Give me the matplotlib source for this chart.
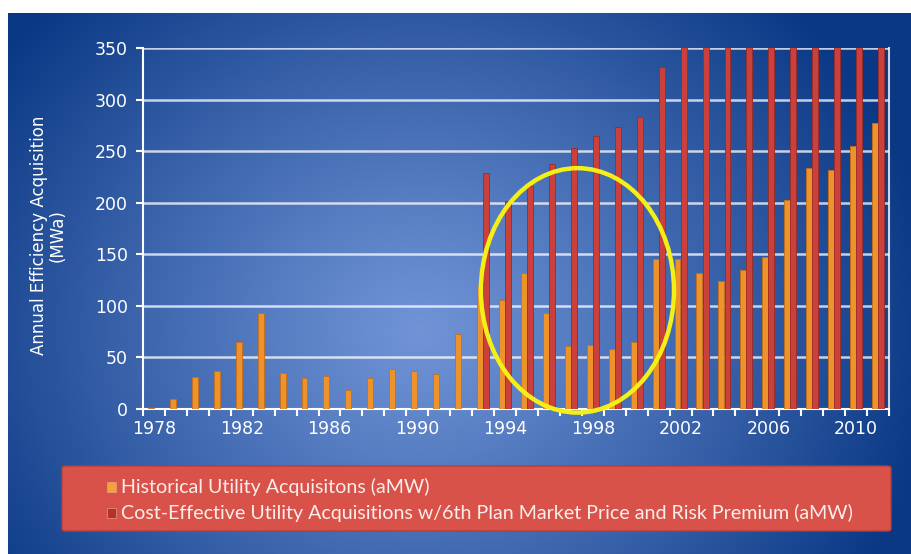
import numpy as np
import matplotlib
matplotlib.use('Agg')
import matplotlib.pyplot as plt
from matplotlib.patches import Ellipse, FancyBboxPatch, Rectangle

# data
years = list(range(1978, 2012))
historical = [1, 10, 31, 37, 65, 93, 35, 30, 32, 18, 30, 39, 37, 34, 73,
              119, 106, 132, 93, 61, 62, 58, 65, 145, 145, 132, 124, 135,
              147, 203, 234, 232, 255, 277]
# cost-effective series starts in 1993; 2002 on runs off the top of the chart
cost_effective = [0] * 15 + [229, 202, 216, 238, 253, 265, 273, 283, 332,
                             365, 372, 380, 388, 395, 402, 410, 418, 425, 432]
x_labels = list(range(1978, 2011, 4))
y_ticks = [0, 50, 100, 150, 200, 250, 300, 350]

W, H = 912, 554
fig = plt.figure(figsize=(W / 100, H / 100), dpi=100, facecolor='white')

# blue radial gradient backdrop (white strip top and left like the slide grab)
bg = fig.add_axes([8 / W, 0, 1 - 8 / W, 1 - 13 / H])
bg.axis('off')
gx, gy = np.meshgrid(np.linspace(8, W, 300), np.linspace(13, H, 200))
d = np.sqrt(((gx - 420) / 1.0) ** 2 + ((gy - 330) / 0.9) ** 2) / 520
d = np.clip(d, 0, 1) ** 1.1
light = np.array([0.44, 0.58, 0.84])
dark = np.array([0.04, 0.22, 0.52])
img = light[None, None, :] * (1 - d[..., None]) + dark[None, None, :] * d[..., None]
bg.imshow(img, aspect='auto', extent=[0, 1, 0, 1], origin='upper')
bg.set_xlim(0, 1)
bg.set_ylim(0, 1)

ax = fig.add_axes([143 / W, 1 - 409 / H, (889 - 143) / W, (409 - 48) / H])
ax.set_facecolor('none')

x = np.array(years)
bw = 0.27
ax.bar(x - 0.14, historical, width=bw, color='#ee922c', edgecolor='#c86e14',
       linewidth=0.6, zorder=3)
ax.bar(x + 0.14, cost_effective, width=bw, color='#c9413a', edgecolor='#9e2a26',
       linewidth=0.6, zorder=3)

ax.set_xlim(1977.5, 2011.5)
ax.set_ylim(0, 350)
ax.set_yticks(y_ticks)
ax.set_xticks(x_labels)
ax.set_xticks(np.arange(1977.5, 2012, 1), minor=True)
ax.tick_params(axis='x', which='major', length=0, pad=8, labelsize=12.5,
               colors='white')
ax.tick_params(axis='x', which='minor', length=5, width=1.5, color='white')
ax.tick_params(axis='y', length=5, width=1.5, colors='white', labelsize=12.5,
               pad=6)
ax.grid(axis='y', color='white', alpha=0.75, linewidth=1.8, zorder=1)
ax.set_axisbelow(True)
for side in ['left', 'bottom', 'right']:
    ax.spines[side].set_color('white')
    ax.spines[side].set_linewidth(1.5)
ax.spines['right'].set_alpha(0.8)
ax.spines['top'].set_visible(False)

ax.set_ylabel('Annual Efficiency Acquisition\n(MWa)', color='white',
              fontsize=12, linespacing=1.0)
ax.yaxis.set_label_coords(-0.103, 0.48)

# yellow highlight ring
ax.add_patch(Ellipse((1997.3, 115), 8.8, 237, fill=False, edgecolor='#f4ef16',
                     linewidth=3.2, zorder=5, clip_on=False))

# legend panel
fig.patches.append(FancyBboxPatch((62 / W, 1 - 531 / H), 829 / W, 65 / H,
                                  boxstyle='round,pad=0,rounding_size=0.004',
                                  transform=fig.transFigure,
                                  facecolor='#d9524a', edgecolor='#b83d36',
                                  linewidth=1.0, zorder=2))
legend_items = [('Historical Utility Acquisitons (aMW)', '#f3a234', 487),
                ('Cost-Effective Utility Acquisitions w/6th Plan Market Price '
                 'and Risk Premium (aMW)', '#b3302b', 513)]
for label, col, py in legend_items:
    fig.patches.append(Rectangle((107 / W, 1 - (py + 5) / H), 9 / W, 10 / H,
                                 transform=fig.transFigure, facecolor=col,
                                 edgecolor='#e89a8a', linewidth=0.5, zorder=3))
    fig.text(121 / W, 1 - py / H, label, color='#fbeeea', fontsize=14.1,
             family='Lato', va='center', ha='left', zorder=4)

fig.savefig('out.png', dpi=100, facecolor='white')
